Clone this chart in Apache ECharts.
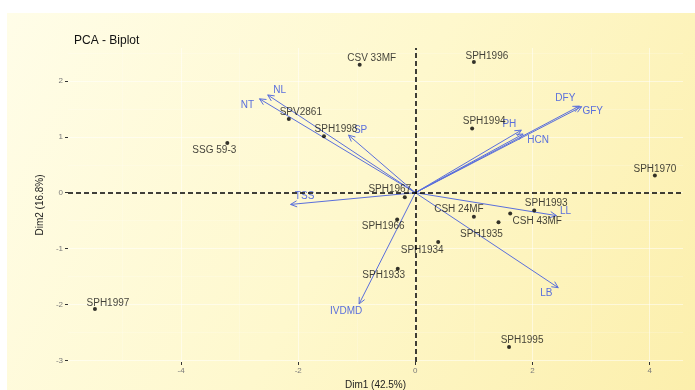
<!DOCTYPE html>
<html>
<head>
<meta charset="utf-8">
<script src="https://cdn.jsdelivr.net/npm/echarts@6/dist/echarts.min.js"></script>
<style>
  html, body { margin: 0; padding: 0; background: #fff; }
  #chart { width: 695px; height: 390px; }
</style>
</head>
<body>
<div id="chart"></div>
<script>
// individuals (Dim1, Dim2)
const indNames = ['CSV 33MF', 'SPH1996', 'SPV2861', 'SPH1998', 'SSG 59-3', 'SPH1994', 'SPH1970', 'SPH1967',
  'SPH1966', 'CSH 24MF', 'CSH 43MF', 'SPH1993', 'SPH1935', 'SPH1934', 'SPH1933', 'SPH1995', 'SPH1997']
const indX = [-0.95, 1.00, -2.16, -1.56, -3.21, 0.97, 4.09, -0.18, -0.31, 1.00, 1.62, 2.03, 1.42, 0.39, -0.30, 1.60, -5.47]
const indY = [2.29, 2.34, 1.32, 1.01, 0.89, 1.15, 0.31, -0.08, -0.48, -0.43, -0.37, -0.32, -0.53, -0.88, -1.36, -2.76, -2.08]

// variables (arrow tips)
const varNames = ['NL', 'NT', 'SP', 'TSS', 'PH', 'HCN', 'DFY', 'GFY', 'LL', 'LB', 'IVDMD']
const varX = [-2.52, -2.66, -1.14, -2.13, 1.81, 1.84, 2.80, 2.84, 2.41, 2.44, -0.96]
const varY = [1.75, 1.68, 1.03, -0.21, 1.12, 1.05, 1.55, 1.54, -0.41, -1.70, -1.99]

const xTicks = [-4, -2, 0, 2, 4]
const yTicks = [-3, -2, -1, 0, 1, 2]

// label nudges (px), repel-style
const indOffset = {
  'CSV 33MF': [12, -7], 'SPH1996': [13, -6], 'SPV2861': [12, -7], 'SPH1998': [12, -7],
  'SSG 59-3': [-13, 7], 'SPH1994': [12, -7], 'SPH1970': [0, -6], 'SPH1967': [-15, -8],
  'SPH1966': [-14, 7], 'CSH 24MF': [-15, -7], 'CSH 43MF': [27, 8], 'SPH1993': [12, -7],
  'SPH1935': [-17, 12], 'SPH1934': [-16, 8], 'SPH1933': [-14, 7], 'SPH1995': [13, -7], 'SPH1997': [13, -6],
}
const varOffset = {
  NL: [12, -5], NT: [-12, 6], SP: [12, -5], TSS: [14, -8], PH: [-12, -6], HCN: [15, 6],
  DFY: [-14, -8], GFY: [11, 5], LL: [9, -4], LB: [-12, 6], IVDMD: [-13, 7],
}

const blue = '#5a6fdc'
const font = 'Liberation Sans, Arial, sans-serif'

const chart = echarts.init(document.getElementById('chart'))

const axisCommon = {
  type: 'value',
  axisLine: { show: false, onZero: false },
  axisTick: { show: true, length: 3, lineStyle: { color: '#333', width: 1 } },
  axisLabel: { color: '#7a7a7a', fontSize: 8, fontFamily: font, margin: 5 },
  splitLine: { show: true, lineStyle: { color: 'rgba(255,255,255,0.5)', width: 1 } },
  minorTick: { show: false, splitNumber: 2 },
  minorSplitLine: { show: true, lineStyle: { color: 'rgba(255,255,255,0.3)', width: 0.6 } },
  nameTextStyle: { color: '#222', fontSize: 10, fontFamily: font },
  nameLocation: 'middle',
}

chart.setOption({
  backgroundColor: '#fff',
  animation: false,
  graphic: [{
    type: 'rect', left: 7, top: 13, z: -100, silent: true,
    shape: { width: 688, height: 377 },
    style: {
      fill: new echarts.graphic.LinearGradient(0, 0, 1, 1, [
        { offset: 0, color: '#fffde8' },
        { offset: 0.5, color: '#fef8cd' },
        { offset: 1, color: '#fcefac' },
      ]),
    },
  }],
  title: {
    text: 'PCA - Biplot', left: 69, top: 30,
    textStyle: { color: '#111', fontSize: 12, fontWeight: 'normal', fontFamily: font },
  },
  grid: { left: 68, right: 12, top: 48, bottom: 28, containLabel: false, outerBoundsMode: 'none' },
  xAxis: {
    ...axisCommon, min: -5.93, max: 4.57, splitNumber: 5,
    name: 'Dim1 (42.5%)', nameGap: 13,
    axisTick: { ...axisCommon.axisTick, customValues: xTicks },
    axisLabel: { ...axisCommon.axisLabel, customValues: xTicks },
  },
  yAxis: {
    ...axisCommon, min: -3.03, max: 2.59, splitNumber: 5,
    name: 'Dim2 (16.8%)', nameGap: 15, nameRotate: 90,
    axisTick: { ...axisCommon.axisTick, customValues: yTicks },
    axisLabel: { ...axisCommon.axisLabel, customValues: yTicks },
  },
  series: [
    {
      type: 'custom',
      clip: false,
      z: 3,
      data: varX.map((x, i) => [x, varY[i]]),
      renderItem: (params, api) => {
        const o = api.coord([0, 0])
        const t = api.coord([api.value(0), api.value(1)])
        const ang = Math.atan2(t[1] - o[1], t[0] - o[0])
        const h = 7, a = Math.PI / 7
        const p1 = [t[0] - h * Math.cos(ang - a), t[1] - h * Math.sin(ang - a)]
        const p2 = [t[0] - h * Math.cos(ang + a), t[1] - h * Math.sin(ang + a)]
        const name = varNames[params.dataIndex]
        const off = varOffset[name]
        return {
          type: 'group',
          children: [
            { type: 'line', shape: { x1: o[0], y1: o[1], x2: t[0], y2: t[1] }, style: { stroke: blue, lineWidth: 1 } },
            { type: 'polyline', shape: { points: [p1, t, p2] }, style: { stroke: blue, lineWidth: 1, fill: null } },
            {
              type: 'text', x: t[0] + off[0], y: t[1] + off[1],
              style: { text: name, fill: blue, fontSize: 10, fontFamily: font, align: 'center', verticalAlign: 'middle' },
            },
          ],
        }
      },
    },
    {
      type: 'scatter',
      symbolSize: 4,
      itemStyle: { color: '#000' },
      z: 4,
      data: indNames.map((n, i) => ({
        name: n,
        value: [indX[i], indY[i]],
        label: { offset: indOffset[n] },
      })),
      label: {
        show: true, position: 'inside', formatter: p => p.name,
        color: '#111', fontSize: 10, fontFamily: font,
      },
      markLine: {
        silent: true, symbol: 'none', animation: false,
        label: { show: false },
        lineStyle: { color: '#000', type: [5, 3], width: 1.5 },
        data: [{ xAxis: 0 }, { yAxis: 0 }],
      },
    },
  ],
})
</script>
</body>
</html>
